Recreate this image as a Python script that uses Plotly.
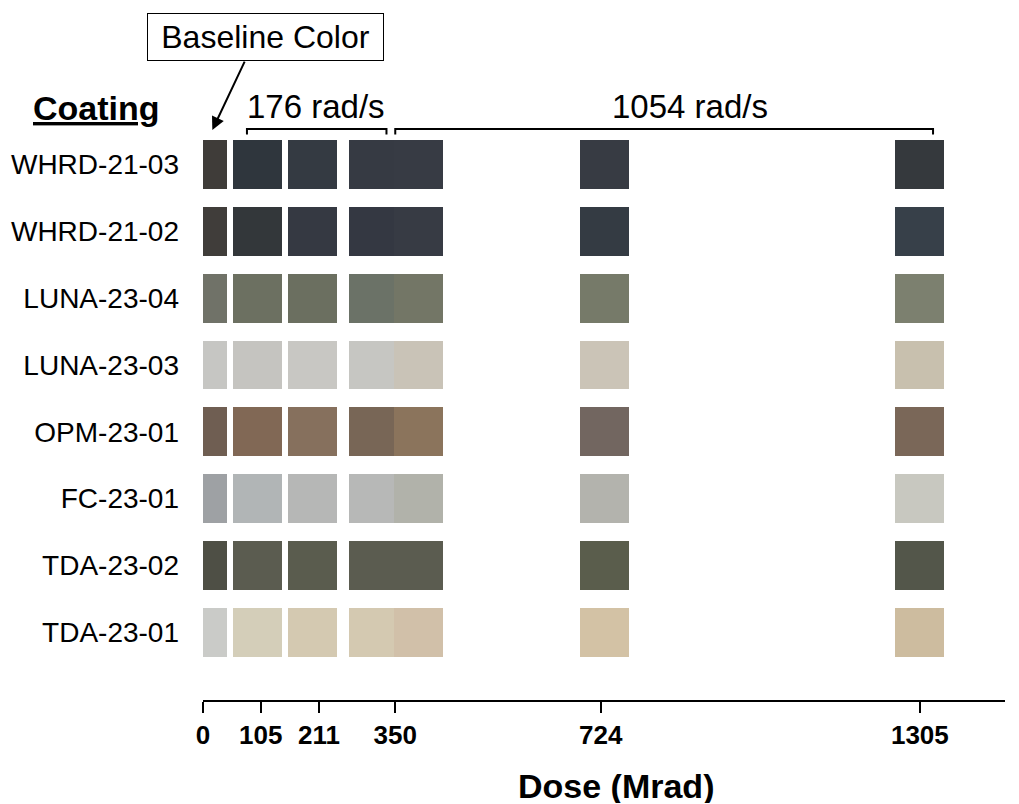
import plotly.graph_objects as go

# ---------------- data ----------------
coatings = ["WHRD-21-03", "WHRD-21-02", "LUNA-23-04", "LUNA-23-03",
            "OPM-23-01", "FC-23-01", "TDA-23-02", "TDA-23-01"]

dose_ticks = [0, 105, 211, 350, 724, 1305]

baseline_dose = 0
rate176_doses = [105, 211, 350]
rate1054_doses = [350, 724, 1305]

# colours, top row to bottom row
baseline_colors = ["#3f3c39", "#403d3a", "#707268", "#c6c6c3", "#6f5e52", "#9ea1a4", "#4e4f45", "#cacbc8"]
c176_105 = ["#2f363d", "#33373a", "#6c7061", "#c5c4c0", "#816855", "#b1b5b6", "#5b5c50", "#d4ceb9"]
c176_211 = ["#343a42", "#353942", "#6b6f60", "#c8c7c3", "#86705d", "#b6b7b6", "#5a5c4e", "#d4c9b1"]
c176_350 = ["#363a43", "#343842", "#6b7267", "#c6c6c2", "#786656", "#b7b8b7", "#5b5c50", "#d4c9b1"]
c1054_350 = ["#373b44", "#373b44", "#737666", "#c9c3b7", "#8b745c", "#b1b2aa", "#5b5c50", "#d1c0a9"]
c1054_724 = ["#373b43", "#343b43", "#767a69", "#cbc4b7", "#726660", "#b3b3ad", "#5a5d4c", "#d3c2a5"]
c1054_1305 = ["#35393d", "#374049", "#7c806f", "#c8c0ae", "#7a6758", "#c8c8c0", "#53564a", "#cdbc9f"]

# ---------------- layout constants ----------------
SQ_W = 89.0      # square width in dose units
SQ_H = 0.73      # square height in row units
FONT = "Liberation Sans, Arial, Helvetica, sans-serif"
L, R, T, B = 203, 14, 100, 104
W, H = 1019, 804
PW, PH = W - L - R, H - T - B


def px_x(px):
    return (px - L) / PW


def px_y(py):
    return (H - B - py) / PH


n = len(coatings)
rows = [n - 1 - i for i in range(n)]   # top row gets highest index

fig = go.Figure()


def add_column(x0, width, colors):
    fig.add_trace(go.Bar(
        orientation="h", y=rows, x=[width] * n, base=[x0] * n,
        width=SQ_H, marker=dict(color=colors, line=dict(width=0)),
        hoverinfo="skip", showlegend=False))


# baseline: half-width square starting at dose 0
add_column(baseline_dose, SQ_W / 2, baseline_colors)
# 176 rad/s (small visual nudges so squares sit as in the original)
add_column(rate176_doses[0] - 6 - SQ_W / 2, SQ_W, c176_105)
add_column(rate176_doses[1] - 12 - SQ_W / 2, SQ_W, c176_211)
add_column(rate176_doses[2] - 3 - (SQ_W - 8), SQ_W - 8, c176_350)   # left of shared dose
# 1054 rad/s
add_column(rate1054_doses[0] - 3, SQ_W, c1054_350)                   # right of shared dose
add_column(rate1054_doses[1] + 7 - SQ_W / 2, SQ_W, c1054_724)
add_column(rate1054_doses[2] - SQ_W / 2, SQ_W, c1054_1305)

# brackets over the dose-rate groups
BR_Y, BR_Y_END = 7.53, 7.45
for bx0, bx1 in [(80, 334), (350, 1329)]:
    fig.add_shape(type="path",
                  path=f"M {bx0},{BR_Y_END} L {bx0},{BR_Y} L {bx1},{BR_Y} L {bx1},{BR_Y_END}",
                  xref="x", yref="y", line=dict(color="black", width=2))

fig.add_annotation(x=206, y=7.87, xref="x", yref="y", text="176 rad/s", showarrow=False,
                   xanchor="center", yanchor="middle",
                   font=dict(family=FONT, size=33, color="black"))
fig.add_annotation(x=886, y=7.87, xref="x", yref="y", text="1054 rad/s", showarrow=False,
                   xanchor="center", yanchor="middle",
                   font=dict(family=FONT, size=33, color="black"))

# Coating header
fig.add_annotation(x=px_x(96), y=px_y(108), xref="paper", yref="paper",
                   text="<b><u>Coating</u></b>", showarrow=False,
                   xanchor="center", yanchor="middle",
                   font=dict(family=FONT, size=34, color="black"))

# Baseline Color box + arrow
fig.add_annotation(x=px_x(265), y=px_y(37), xref="paper", yref="paper",
                   text="Baseline Color", showarrow=False, width=235, height=46,
                   xanchor="center", yanchor="middle",
                   bordercolor="black", borderwidth=1, borderpad=0, bgcolor="white",
                   font=dict(family=FONT, size=32, color="black"))
fig.add_annotation(x=17, y=7.515, xref="x", yref="y", text="", showarrow=True,
                   ax=33, ay=-70, arrowhead=2, arrowsize=1.3, arrowwidth=2, arrowcolor="black")

# x title
fig.add_annotation(x=px_x(616), y=px_y(786), xref="paper", yref="paper",
                   text="<b>Dose (Mrad)</b>", showarrow=False, height=34,
                   xanchor="center", yanchor="middle",
                   font=dict(family=FONT, size=34, color="black"))

fig.update_layout(
    width=W, height=H,
    margin=dict(l=L, r=R, t=T, b=B),
    plot_bgcolor="white", paper_bgcolor="white",
    barmode="overlay", bargap=0,
    showlegend=False,
    xaxis=dict(range=[0, 1460], tickvals=dose_ticks, ticktext=[str(d) for d in dose_ticks],
               showline=True, linecolor="black", linewidth=2,
               ticks="outside", ticklen=11, tickwidth=2, tickcolor="black",
               showgrid=False, zeroline=False,
               tickfont=dict(family=FONT, size=26, color="black", weight="bold")),
    yaxis=dict(range=[-1.013, 7.965], tickvals=rows, ticktext=coatings,
               showline=False, showgrid=False, zeroline=False, ticks="",
               ticklabelstandoff=23,
               tickfont=dict(family=FONT, size=28, color="black")),
)

fig.write_html("out.html", config={"displayModeBar": False},
               post_script="document.body.style.margin='0';document.body.style.padding='0';")
